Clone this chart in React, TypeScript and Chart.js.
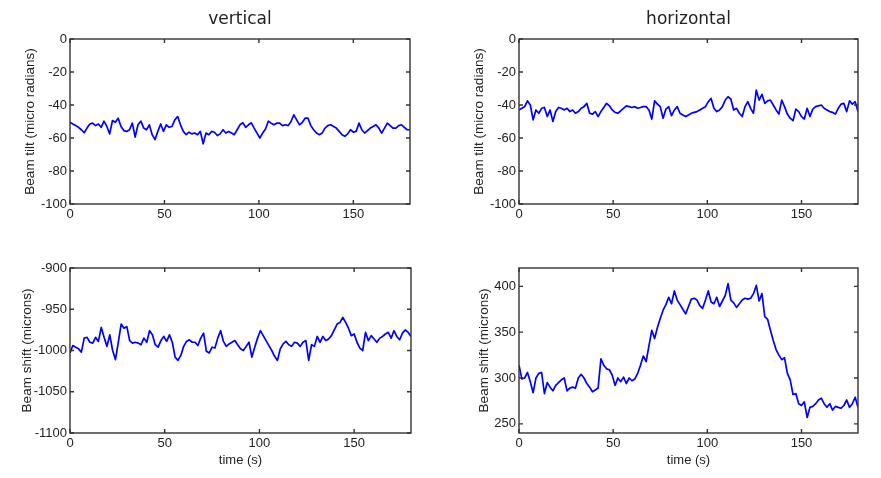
import React, { useEffect, useRef } from "react";
import { Chart, registerables } from "chart.js";

Chart.register(...registerables);

// sampling interval of the recorded series (seconds)
const STEP = 1.5;

const titles = ["vertical", "horizontal"];
const tiltLabel = "Beam tilt (micro radians)";
const shiftLabel = "Beam shift (microns)";
const timeLabel = "time (s)";

// Beam tilt, vertical (micro radians)
const tiltVertical = [
  -50.5, -51.5, -52.4, -53.5, -55, -56.8, -54, -51.5, -51, -52.5,
  -51.5, -53.5, -49.8, -53, -57.5, -49.4, -50.5, -48, -53, -55.5,
  -56, -55, -51, -59.5, -52, -49.8, -53.9, -55, -52, -58,
  -61, -56, -51.5, -56, -52, -53.5, -53, -49, -47, -52,
  -56, -58, -56.5, -57.5, -57, -58, -56, -63.5, -57, -58,
  -56, -56.5, -58.5, -57.5, -55, -57, -56, -57, -58, -55,
  -52, -50.8, -53.5, -52, -50.8, -54, -57, -60, -57, -54.5,
  -49.8, -51, -52, -51, -51, -52.5, -52, -52.5, -50, -46,
  -49, -52, -50.5, -48, -48, -52.5, -55, -57, -58, -57,
  -54, -52.5, -52, -53, -54, -56, -58, -59, -57.5, -55,
  -56.5, -56, -51, -55, -57, -55.5, -54, -53, -52, -54,
  -57, -54, -51, -52.5, -54, -54, -52.5, -52, -53.5, -55,
  -55,
];

// Beam tilt, horizontal (micro radians)
const tiltHorizontal = [
  -43, -42, -41, -37.5, -40, -49, -43, -45, -42, -41.5,
  -47, -43, -50, -44, -41.5, -42, -43, -42, -44, -43,
  -45, -44, -42, -41, -39, -45, -45.5, -44, -47, -44,
  -41.5, -39, -40.5, -43, -44.5, -45, -43.5, -42, -40.5, -41,
  -41.5, -41, -42, -41.5, -41, -41, -43, -48.5, -37.5, -39.5,
  -41, -48, -42.5, -41, -46.5, -43, -41, -45, -46, -47,
  -46, -45, -44.5, -44, -43, -42, -41, -38, -36, -42,
  -44, -43, -41, -37, -35, -36.5, -43, -42, -45, -47,
  -41, -38, -42, -45, -31, -37, -33.5, -39, -37.5, -37,
  -40, -43, -45.5, -37, -41, -45.5, -48, -49.5, -42.5, -44,
  -47, -48.5, -42, -47, -42.5, -41, -40.5, -40, -42, -43,
  -44, -44.5, -45.5, -42, -39.5, -39, -44, -37.5, -39.5, -38,
  -44,
];

// Beam shift, vertical (microns)
const shiftVertical = [
  -1003, -994, -996, -998, -1002, -985, -984, -990, -991, -984,
  -989, -972, -984, -995, -981, -1000, -1011, -990, -968, -973,
  -971, -988, -991, -990, -991, -993, -985, -990, -976, -981,
  -993, -996, -988, -983, -989, -981, -990, -1008, -1012, -1006,
  -995, -989, -987, -990, -990, -994, -985, -979, -1001, -1003,
  -996, -997, -985, -976, -989, -995, -992, -990, -988, -993,
  -998, -1000, -995, -990, -1008, -996, -985, -976, -982, -988,
  -994, -1000, -1007, -1012, -998, -992, -989, -993, -995, -990,
  -991, -995, -990, -988, -1012, -993, -995, -983, -990, -983,
  -988, -986, -982, -975, -968, -966, -960, -966, -973, -982,
  -980, -990, -997, -1000, -978, -988, -982, -986, -990, -985,
  -983, -980, -978, -985, -976, -983, -987, -979, -975, -978,
  -983,
];

// Beam shift, horizontal (microns)
const shiftHorizontal = [
  314, 299, 300, 306, 296, 284, 300, 305, 306, 283,
  295, 290, 286, 292, 295, 298, 300, 286, 289, 290,
  289, 300, 304, 300, 294, 290, 285, 287, 289, 321,
  314, 310, 309, 303, 292, 300, 296, 301, 294, 300,
  297, 299, 305, 314, 324, 318, 335, 352, 343, 355,
  365, 374, 380, 388, 381, 395, 385, 380, 375, 370,
  378, 386, 387, 385, 379, 376, 385, 395, 383, 381,
  388, 378, 384, 390, 403, 385, 382, 377, 381, 385,
  387, 386, 387, 392, 401, 384, 392, 367, 364, 352,
  341, 331, 325, 320, 322, 305, 298, 282, 283, 272,
  270, 274, 257, 268, 269, 272, 276, 278, 272, 268,
  272, 265, 269, 268, 267, 270, 276, 268, 272, 279,
  268,
];

const TICK_FONT = { family: "'Liberation Sans', Arial, sans-serif", size: 13 };
const LABEL_FONT = { family: "'Liberation Sans', Arial, sans-serif", size: 13.5 };
const INK = "#222";

const framePlugin = {
  id: "matlabFrame",
  afterDatasetsDraw(chart: any) {
    const { ctx, chartArea: a, scales } = chart;
    ctx.save();
    ctx.strokeStyle = "#333";
    ctx.lineWidth = 1.4;
    ctx.strokeRect(a.left, a.top, a.right - a.left, a.bottom - a.top);
    const L = 4;
    ctx.beginPath();
    scales.x.ticks.forEach((t: any) => {
      const px = scales.x.getPixelForValue(t.value);
      ctx.moveTo(px, a.bottom);
      ctx.lineTo(px, a.bottom - L);
      ctx.moveTo(px, a.top);
      ctx.lineTo(px, a.top + L);
    });
    scales.y.ticks.forEach((t: any) => {
      const py = scales.y.getPixelForValue(t.value);
      ctx.moveTo(a.left, py);
      ctx.lineTo(a.left + L, py);
      ctx.moveTo(a.right, py);
      ctx.lineTo(a.right - L, py);
    });
    ctx.stroke();
    ctx.restore();
  },
};

type PanelProps = {
  left: number;
  top: number;
  width: number;
  height: number;
  area: { l: number; r: number; t: number; b: number };
  values: number[];
  yMin: number;
  yMax: number;
  yStep: number;
  yLabel: string;
  yLabelCenter: number;
  title?: string;
  xLabel?: string;
};

function Panel(p: PanelProps) {
  const ref = useRef<HTMLCanvasElement | null>(null);
  useEffect(() => {
    if (!ref.current) return;
    const titleLH = 17 * 1.2;
    const titlePadTop = 9.5;
    const titlePadBottom = p.title ? p.area.t - titleLH - titlePadTop : 0;
    const axisLH = 13.5 * 1.2;
    const plain = (v: any) => String(v);
    const chart = new Chart(ref.current, {
      type: "line",
      data: {
        datasets: [
          {
            data: p.values.map((v, i) => ({ x: i * STEP, y: v })),
            borderColor: "#0000ff",
            borderWidth: 1.7,
            pointRadius: 0,
            tension: 0,
            fill: false,
            borderJoinStyle: "round",
          },
        ],
      },
      options: {
        animation: false,
        responsive: false,
        events: [],
        layout: {
          padding: {
            left: 0,
            right: p.width - p.area.r,
            top: p.title ? 0 : p.area.t,
            bottom: 0,
          },
        },
        plugins: {
          legend: { display: false },
          tooltip: { enabled: false },
          title: {
            display: !!p.title,
            text: p.title || "",
            fullSize: false,
            color: INK,
            font: { family: "'DejaVu Sans', sans-serif", size: 17, weight: "normal" },
            padding: { top: titlePadTop, bottom: titlePadBottom },
          },
        },
        scales: {
          x: {
            type: "linear",
            min: 0,
            max: 180,
            grid: { display: false, drawTicks: false },
            border: { display: false },
            ticks: {
              stepSize: 50,
              includeBounds: false,
              maxRotation: 0,
              padding: 3,
              color: INK,
              font: TICK_FONT,
              callback: plain,
            },
            title: {
              display: !!p.xLabel,
              text: p.xLabel || "",
              color: INK,
              font: TICK_FONT,
              padding: { top: 0, bottom: 18 - (13 * 1.2) / 2 },
            },
            afterFit: (s: any) => {
              s.height = p.height - p.area.b;
            },
          },
          y: {
            type: "linear",
            min: p.yMin,
            max: p.yMax,
            grid: { display: false, drawTicks: false },
            border: { display: false },
            ticks: {
              stepSize: p.yStep,
              includeBounds: false,
              padding: 3,
              color: INK,
              font: TICK_FONT,
              callback: plain,
            },
            title: {
              display: true,
              text: p.yLabel,
              color: INK,
              font: LABEL_FONT,
              padding: { top: p.yLabelCenter - axisLH / 2, bottom: 0 },
            },
            afterFit: (s: any) => {
              s.width = p.area.l;
            },
          },
        },
      } as any,
      plugins: [framePlugin],
    });
    return () => chart.destroy();
  }, []);
  return (
    <canvas
      ref={ref}
      width={p.width}
      height={p.height}
      style={{ position: "absolute", left: p.left, top: p.top, width: p.width, height: p.height }}
    />
  );
}

export default function App() {
  return (
    <div
      style={{
        position: "fixed",
        left: 0,
        top: 0,
        width: 881,
        height: 478,
        background: "#ffffff",
        overflow: "hidden",
      }}
    >
      <Panel
        left={0}
        top={0}
        width={440}
        height={240}
        area={{ l: 70, r: 410, t: 39, b: 204 }}
        values={tiltVertical}
        yMin={-100}
        yMax={0}
        yStep={20}
        yLabel={tiltLabel}
        yLabelCenter={30}
        title={titles[0]}
      />
      <Panel
        left={440}
        top={0}
        width={441}
        height={240}
        area={{ l: 79, r: 418, t: 39, b: 204 }}
        values={tiltHorizontal}
        yMin={-100}
        yMax={0}
        yStep={20}
        yLabel={tiltLabel}
        yLabelCenter={39}
        title={titles[1]}
      />
      <Panel
        left={0}
        top={240}
        width={440}
        height={238}
        area={{ l: 70, r: 411, t: 28, b: 193 }}
        values={shiftVertical}
        yMin={-1100}
        yMax={-900}
        yStep={50}
        yLabel={shiftLabel}
        yLabelCenter={27}
        xLabel={timeLabel}
      />
      <Panel
        left={440}
        top={240}
        width={441}
        height={238}
        area={{ l: 79, r: 418, t: 28, b: 193 }}
        values={shiftHorizontal}
        yMin={240}
        yMax={420}
        yStep={50}
        yLabel={shiftLabel}
        yLabelCenter={44}
        xLabel={timeLabel}
      />
    </div>
  );
}
